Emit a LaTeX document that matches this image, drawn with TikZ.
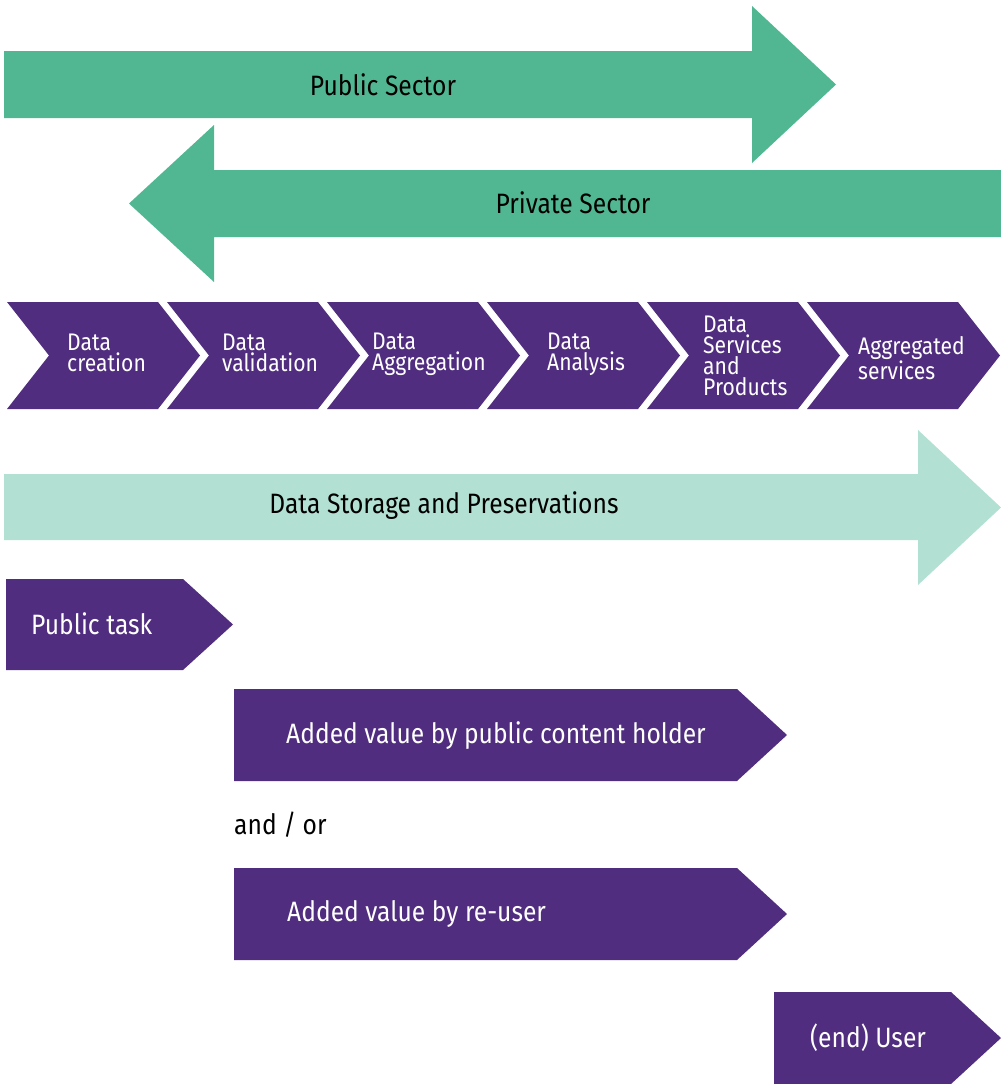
\documentclass[tikz,border=0pt]{standalone}
\usepackage{fontspec}
\setmainfont{Fira Sans}[FakeStretch=0.88]
\usepackage{tikz}

\definecolor{sectorgreen}{RGB}{80,183,146}
\definecolor{storemint}{RGB}{178,224,210}
\definecolor{chainpurple}{RGB}{80,45,127}

\begin{document}
\begin{tikzpicture}[x=1pt,y=-1pt,
  bigtext/.style={inner sep=0pt,font=\fontsize{28}{30}\selectfont},
  steptext/.style={inner sep=0pt,anchor=west,align=left,text=white,
    font=\fontsize{24}{21}\selectfont}]

\useasboundingbox (0,0) rectangle (1001,1084);

% sector arrows
\fill[sectorgreen] (4,51) -- (752,51) -- (752,6) -- (836,84.5) -- (752,163) -- (752,118) -- (4,118) -- cycle;
\fill[sectorgreen] (1001,170) -- (214,170) -- (214,125) -- (129,203.5) -- (214,282) -- (214,237) -- (1001,237) -- cycle;
\node[bigtext] (public) at (383,85) {Public Sector};
\node[bigtext] (private) at (573,203) {Private Sector};

% value chain
\fill[chainpurple] (7,302) -- (158,302) -- (200,355.5) -- (158,409) -- (7,409) -- (49,355.5) -- cycle;
\fill[chainpurple] (167,302) -- (318,302) -- (360,355.5) -- (318,409) -- (167,409) -- (209,355.5) -- cycle;
\fill[chainpurple] (327,302) -- (478,302) -- (520,355.5) -- (478,409) -- (327,409) -- (369,355.5) -- cycle;
\fill[chainpurple] (487,302) -- (638,302) -- (680,355.5) -- (638,409) -- (487,409) -- (529,355.5) -- cycle;
\fill[chainpurple] (647,302) -- (798,302) -- (840,355.5) -- (798,409) -- (647,409) -- (689,355.5) -- cycle;
\fill[chainpurple] (807,302) -- (958,302) -- (1000,355.5) -- (958,409) -- (807,409) -- (849,355.5) -- cycle;

\node[steptext] (creation) at (67,353) {Data\\creation};
\node[steptext] (validation) at (222,353) {Data\\validation};
\node[steptext] (aggregation) at (372,354) {Data\\Aggregation};
\node[steptext] (analysis) at (547,354) {Data\\Analysis};
\node[steptext] (services) at (703,356) {Data\\Services\\and\\Products};
\node[steptext] (aggregated) at (858,358) {Aggregated\\services};

% storage
\fill[storemint] (4,474) -- (918,474) -- (918,430) -- (1001,507.5) -- (918,585) -- (918,540) -- (4,540) -- cycle;
\node[bigtext] (storage) at (444,506) {Data Storage and Preservations};

% actors
\fill[chainpurple] (6,579) -- (183,579) -- (233,624.5) -- (183,670) -- (6,670) -- cycle;
\fill[chainpurple] (234,689) -- (737,689) -- (787,735) -- (737,781) -- (234,781) -- cycle;
\fill[chainpurple] (234,868) -- (737,868) -- (787,914) -- (737,960) -- (234,960) -- cycle;
\fill[chainpurple] (774,992) -- (951,992) -- (1001,1038) -- (951,1084) -- (774,1084) -- cycle;

\node[bigtext,anchor=west,text=white] (task) at (31,624) {Public task};
\node[bigtext,anchor=west,text=white] (holder) at (286,736) {Added value by public content holder};
\node[bigtext,anchor=west] (andor) at (234,825) {and / or};
\node[bigtext,anchor=west,text=white] (reuser) at (287,914) {Added value by re-user};
\node[bigtext,anchor=west,text=white] (user) at (810,1038) {(end) User};
\end{tikzpicture}
\end{document}
